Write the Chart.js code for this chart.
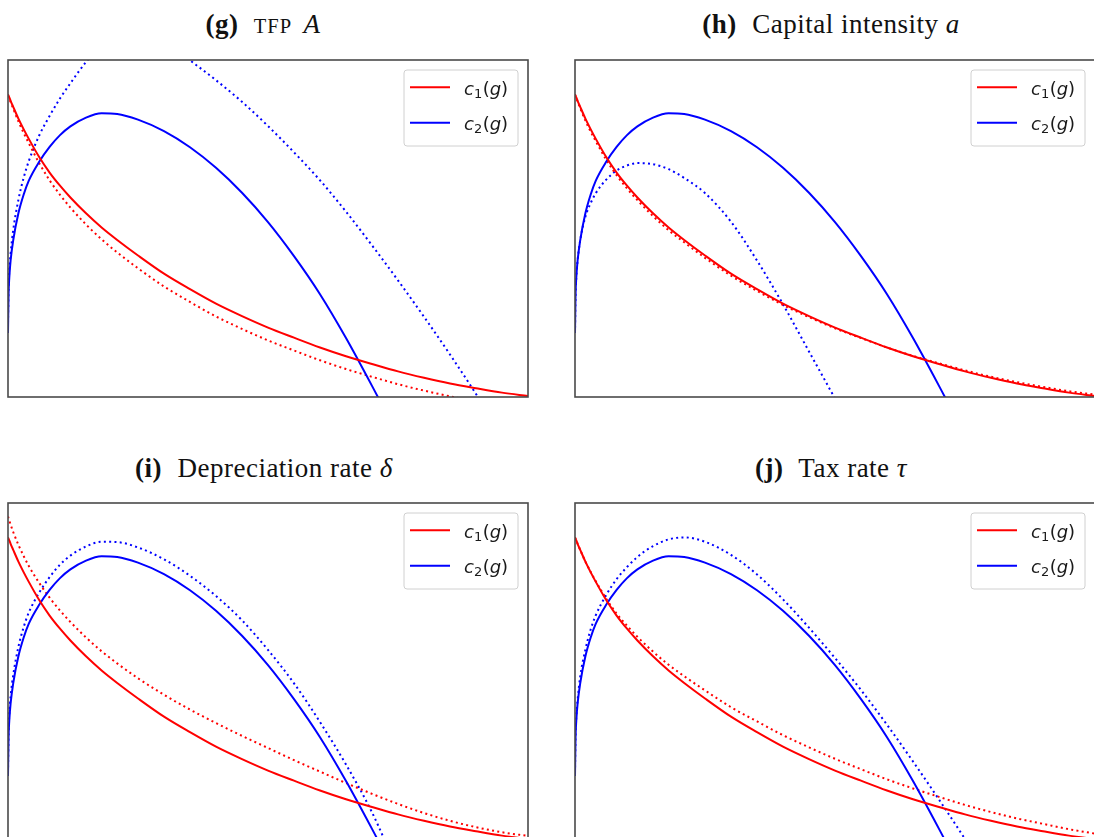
<!DOCTYPE html>
<html><head><meta charset="utf-8">
<script src="https://cdn.jsdelivr.net/npm/chart.js@4.4.1/dist/chart.umd.min.js"></script>
<style>
html,body{margin:0;padding:0;background:#fff;}
body{width:1094px;height:837px;overflow:hidden;position:relative;}
canvas{position:absolute;}
.ttl{position:absolute;width:600px;text-align:center;font-family:"Liberation Serif","Times New Roman",serif;font-size:27px;line-height:27px;color:#111;white-space:nowrap;letter-spacing:0.5px}
.ttl b{font-weight:bold;margin-right:0.3em}
.ttl i{font-style:italic}
.sc{font-size:0.76em;letter-spacing:1px;margin-right:0.2em}
</style></head><body>
<div class="ttl" style="left:-37px;top:11px"><b>(g)</b> <span class="sc">TFP</span> <i>A</i></div>
<div class="ttl" style="left:531px;top:11px"><b>(h)</b> Capital intensity <i>a</i></div>
<div class="ttl" style="left:-36px;top:455px"><b>(i)</b> Depreciation rate <i>δ</i></div>
<div class="ttl" style="left:531px;top:455px"><b>(j)</b> Tax rate <i>τ</i></div>
<canvas id="cg" width="547" height="360" style="left:0;top:50px"></canvas>
<canvas id="ch" width="560" height="360" style="left:547px;top:50px"></canvas>
<canvas id="ci" width="547" height="360" style="left:0;top:493px"></canvas>
<canvas id="cj" width="560" height="360" style="left:547px;top:493px"></canvas>
<script>
// growth rate g (normalised 0-100 across the axis)
const gridX = [0,0.1,0.25,0.5,1,2,3,4,6,8,10,12,15,18,21,25,30,35,40,45,50,55,60,65,70,75,80,85,90,95,100];

// baseline curves (solid), identical in every panel
const c1Base = [89.8,89.4,88.9,87.9,86.1,82.6,79.5,76.6,71.2,66.6,62.7,59.2,54.5,50.3,46.6,42.0,36.6,32.0,27.7,24.0,20.6,17.6,14.7,12.1,9.8,7.6,5.7,4.0,2.6,1.3,0.3];
const c2Base = [19,30,35.5,40.5,46.5,54.5,60,64.2,69.8,74.2,77.7,80.3,82.9,84.2,84.0,82.3,78.9,74.1,68.0,60.6,51.9,41.8,30.5,17.5,3.3,-11.5,-27,null,null,null,null];

// (g) TFP A — dotted
const c1TFP = [89.5,89.1,88.6,87.5,85.6,81.8,78.4,75.3,69.4,64.3,60.0,56.2,51.2,46.8,42.9,38.2,32.8,28.2,23.9,20.2,16.8,13.8,10.9,8.3,6.0,3.8,1.9,0.2,-1.3,-2.6,-3.6];
const c2TFP = [22,32,37.5,42.5,49.5,58.5,65.0,70.0,77.6,83.4,88.6,93.1,99.4,104.4,107,108.2,105.8,99.9,94.0,87.6,80.4,72.6,64.3,55.0,45.0,34.6,23.8,12.6,0.9,-11.5,-24.5];

// (h) Capital intensity a — dotted
const c1Cap = [89.8,89.3,88.7,87.6,85.7,82.0,78.8,75.9,70.4,65.8,61.9,58.4,53.7,49.5,45.9,41.3,36.0,31.5,27.3,23.7,20.4,17.5,14.7,12.2,10.0,7.9,6.0,4.4,3.0,1.7,0.7];
const c2Cap = [19,30,35.5,40.5,46.5,53.5,57.5,60.5,64.5,67.2,68.7,69.4,69.1,67.6,65.0,60.5,52.0,40.5,27.5,13.5,-0.5,-15,-30,null,null,null,null,null,null,null,null];

// (i) Depreciation rate delta — dotted
const c1Dep = [96,95.5,94.8,93.6,91.4,87.6,84.3,81.3,76.3,71.9,68.1,64.7,60.1,56.0,52.4,48.0,43.1,38.7,34.7,30.9,27.3,23.7,20.3,16.9,13.7,10.7,8.0,5.7,3.8,2.3,1.2];
const c2Dep = [20,31.5,37.3,42.6,48.9,57.3,63.1,67.5,73.4,78.0,81.7,84.4,87.1,88.5,88.4,86.8,83.3,78.4,72.4,65.2,56.4,46.5,35.0,22.4,8.2,-9.0,-25,null,null,null,null];

// (j) Tax rate tau — dotted
const c1Tax = [89.8,89.4,88.9,87.9,86.1,82.6,79.6,76.8,71.6,67.2,63.6,60.3,55.9,52.0,48.6,44.4,39.4,35.2,31.1,27.5,24.1,21.0,18.0,15.3,12.8,10.4,8.3,6.4,4.8,3.2,1.9];
const c2Tax = [20,31,36.5,41.5,48.5,56.5,62.4,66.7,72.7,77.4,81.0,84.0,87.2,89.2,89.8,88.5,84.6,78.8,71.4,63.0,54.0,44.5,34.2,23.3,12.0,0.3,-11.8,-24.5,null,null,null];

const legendSubs = ['1','2'];
const RED = 'rgb(255,0,0)';
const BLUE = 'rgb(0,0,255)';

function drawMath(ctx, x, y, sub) {
  const fs = 18;
  let cx = x;
  const base = y + 7.5;
  ctx.fillStyle = '#1a1a1a';
  ctx.textBaseline = 'alphabetic';
  ctx.textAlign = 'left';
  ctx.font = 'oblique ' + fs + 'px "DejaVu Sans"';
  ctx.fillText('c', cx, base); cx += ctx.measureText('c').width;
  ctx.font = Math.round(fs * 0.7) + 'px "DejaVu Sans"';
  ctx.fillText(sub, cx, base + 3); cx += ctx.measureText(sub).width + 0.5;
  ctx.font = fs + 'px "DejaVu Sans"';
  ctx.fillText('(', cx, base); cx += ctx.measureText('(').width;
  ctx.font = 'oblique ' + fs + 'px "DejaVu Sans"';
  ctx.fillText('g', cx, base); cx += ctx.measureText('g').width;
  ctx.font = fs + 'px "DejaVu Sans"';
  ctx.fillText(')', cx, base);
}

const framePlugin = {
  id: 'frame',
  afterDatasetsDraw(chart) {
    const {ctx, chartArea: a} = chart;
    ctx.save();
    ctx.strokeStyle = '#4a4a4a';
    ctx.lineWidth = 1.6;
    ctx.strokeRect(a.left, a.top, a.right - a.left, a.bottom - a.top);
    ctx.restore();
  }
};

const legendPlugin = {
  id: 'mplLegend',
  afterDraw(chart) {
    const {ctx, chartArea: a} = chart;
    const w = 114, h = 76, r = 3;
    const bx = a.right - 10 - w, by = a.top + 10;
    ctx.save();
    ctx.beginPath();
    ctx.moveTo(bx + r, by);
    ctx.arcTo(bx + w, by, bx + w, by + h, r);
    ctx.arcTo(bx + w, by + h, bx, by + h, r);
    ctx.arcTo(bx, by + h, bx, by, r);
    ctx.arcTo(bx, by, bx + w, by, r);
    ctx.closePath();
    ctx.fillStyle = 'rgba(255,255,255,0.8)';
    ctx.fill();
    ctx.strokeStyle = '#d0d0d0';
    ctx.lineWidth = 1;
    ctx.stroke();
    for (let i = 0; i < 2; i++) {
      const ds = chart.data.datasets[i];
      const y = by + 17.3 + i * 35.4;
      ctx.beginPath();
      ctx.moveTo(bx + 6, y);
      ctx.lineTo(bx + 46, y);
      ctx.strokeStyle = ds.borderColor;
      ctx.lineWidth = 2;
      ctx.setLineDash([]);
      ctx.stroke();
      drawMath(ctx, bx + 60, y, legendSubs[i]);
    }
    ctx.restore();
  }
};

function pts(ys) { return gridX.map((x, i) => ({x: x, y: ys[i]})); }

function makeChart(id, dot1, dot2, pad) {
  const common = {pointRadius: 0, borderWidth: 2, fill: false, cubicInterpolationMode: 'monotone', spanGaps: false};
  return new Chart(document.getElementById(id), {
    type: 'line',
    data: {datasets: [
      Object.assign({label: 'c1(g)', data: pts(c1Base), borderColor: RED}, common),
      Object.assign({label: 'c2(g)', data: pts(c2Base), borderColor: BLUE}, common),
      Object.assign({label: 'c1(g) alt', data: pts(dot1), borderColor: RED, borderDash: [2, 3.3]}, common),
      Object.assign({label: 'c2(g) alt', data: pts(dot2), borderColor: BLUE, borderDash: [2, 3.3]}, common)
    ]},
    options: {
      responsive: false, animation: false, devicePixelRatio: 1, events: [],
      layout: {padding: pad},
      scales: {
        x: {type: 'linear', min: 0, max: 100, display: false},
        y: {type: 'linear', min: 0, max: 100, display: false}
      },
      plugins: {legend: {display: false}, tooltip: {enabled: false}, title: {display: false}}
    },
    plugins: [framePlugin, legendPlugin]
  });
}

const padL = {left: 8, top: 10, right: 19, bottom: 13};
const padR = {left: 28, top: 10, right: 12, bottom: 13};
makeChart('cg', c1TFP, c2TFP, padL);
makeChart('ch', c1Cap, c2Cap, padR);
makeChart('ci', c1Dep, c2Dep, padL);
makeChart('cj', c1Tax, c2Tax, padR);
</script>
</body></html>
